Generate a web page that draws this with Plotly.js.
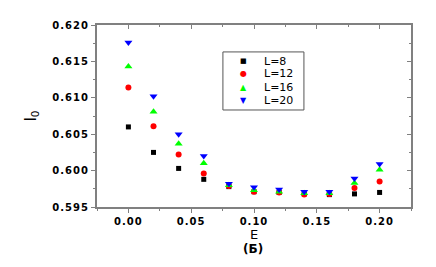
<!DOCTYPE html>
<html><head><meta charset="utf-8">
<script src="https://cdn.plot.ly/plotly-3.0.1.min.js"></script>
<style>html,body{margin:0;padding:0;background:#fff;}#chart{width:436px;height:267px;}
.xtick text, .ytick text {letter-spacing: 1px;}</style>
</head><body><div id="chart"></div>
<script>
const E = [0.00, 0.02, 0.04, 0.06, 0.08, 0.10, 0.12, 0.14, 0.16, 0.18, 0.20];
const L8  = [0.6060, 0.6025, 0.6003, 0.5988, 0.5978, 0.5971, 0.5970, 0.5968, 0.5967, 0.5968, 0.5970];
const L12 = [0.6114, 0.6061, 0.6022, 0.5996, 0.5979, 0.5971, 0.5970, 0.5967, 0.5968, 0.5976, 0.5985];
const L16 = [0.6143, 0.6081, 0.6037, 0.6010, 0.5980, 0.5973, 0.5971, 0.5969, 0.5969, 0.5983, 0.6001];
const L20 = [0.6176, 0.6102, 0.6050, 0.6020, 0.5982, 0.5977, 0.5974, 0.5971, 0.5971, 0.5989, 0.6009];
const names = ['L=8', 'L=12', 'L=16', 'L=20'];
const xTicks = [0.00, 0.05, 0.10, 0.15, 0.20];
const xTickText = ['0.00', '0.05', '0.10', '0.15', '0.20'];
const yTicks = [0.595, 0.600, 0.605, 0.610, 0.615, 0.620];
const yTickText = ['0.595', '0.600', '0.605', '0.610', '0.615', '0.620'];

const series = [L8, L12, L16, L20];
const colors = ['#000000', '#ff0000', '#00ff00', '#0000ff'];
const symbols = ['square', 'circle', 'triangle-up', 'triangle-down'];
const glyphs = ['■', '●', '▲', '▼'];
const glyphSizes = [7, 8, 8, 8];
const sizes = [5, 6, 7, 7];
const traces = series.map((s, i) => ({
  x: E, y: s, name: names[i], type: 'scatter', mode: 'markers', showlegend: false,
  marker: {color: colors[i], symbol: symbols[i], size: sizes[i], line: {width: 0}}
}));

// manual legend (compact, like the reference)
const legY = [0.802, 0.731, 0.658, 0.586];
const annotations = [];
names.forEach((n, i) => {
  annotations.push({xref: 'paper', yref: 'paper', x: 0.465, y: legY[i], xanchor: 'center', yanchor: 'middle',
    text: glyphs[i], showarrow: false, font: {family: 'DejaVu Sans', size: glyphSizes[i], color: colors[i]}});
  annotations.push({xref: 'paper', yref: 'paper', x: 0.527, y: legY[i], xanchor: 'left', yanchor: 'middle',
    text: n, showarrow: false, font: {family: 'DejaVu Sans', size: 11, color: '#000'}});
});
annotations.push({xref: 'paper', yref: 'paper', x: 0.497, y: -0.18, xanchor: 'center', yanchor: 'top',
  text: '<b>(Б)</b>', showarrow: false, font: {family: 'DejaVu Sans', size: 12, color: '#000'}});

const axColor = '#808080';
const tickFont = {family: 'DejaVu Sans', size: 10, color: '#000', weight: 'bold'};
const layout = {
  width: 436, height: 267,
  margin: {l: 97, r: 25, t: 25, b: 60},
  paper_bgcolor: '#fff', plot_bgcolor: '#fff',
  showlegend: false,
  annotations: annotations,
  shapes: [{type: 'rect', xref: 'paper', yref: 'paper', x0: 0.401, x1: 0.659, y0: 0.533, y1: 0.852,
    line: {color: '#555', width: 1}, fillcolor: 'rgba(0,0,0,0)'}],
  xaxis: {range: [-0.025, 0.225], tickvals: xTicks, ticktext: xTickText,
    showgrid: false, zeroline: false, showline: true, linecolor: axColor, linewidth: 2,
    ticks: 'outside', ticklen: 4, tickcolor: axColor, tickwidth: 1,
    minor: {dtick: 0.025, ticks: 'outside', ticklen: 2, tickcolor: axColor, showgrid: false},
    tickfont: tickFont,
    title: {text: 'E', font: {family: 'DejaVu Sans', size: 13, color: '#000'}, standoff: 0}},
  yaxis: {range: [0.595, 0.620], tickvals: yTicks, ticktext: yTickText,
    showgrid: false, zeroline: false, showline: true, linecolor: axColor, linewidth: 2,
    ticks: 'outside', ticklen: 4, tickcolor: axColor, tickwidth: 1,
    minor: {dtick: 0.0025, ticks: 'outside', ticklen: 2, tickcolor: axColor, showgrid: false},
    tickfont: tickFont,
    title: {text: 'I<sub>0</sub>', font: {family: 'DejaVu Sans', size: 15, color: '#000'}, standoff: 12}},
  xaxis2: {overlaying: 'x', side: 'top', matches: 'x', range: [-0.025, 0.225], tickvals: xTicks,
    showticklabels: false, showgrid: false, zeroline: false, showline: true, linecolor: axColor, linewidth: 2,
    ticks: 'inside', ticklen: 4, tickcolor: axColor,
    minor: {dtick: 0.025, ticks: 'inside', ticklen: 2, tickcolor: axColor, showgrid: false}},
  yaxis2: {overlaying: 'y', side: 'right', matches: 'y', range: [0.595, 0.620], tickvals: yTicks,
    showticklabels: false, showgrid: false, zeroline: false, showline: true, linecolor: axColor, linewidth: 2,
    ticks: 'inside', ticklen: 4, tickcolor: axColor,
    minor: {dtick: 0.0025, ticks: 'inside', ticklen: 2, tickcolor: axColor, showgrid: false}}
};
traces.push({x: [E[0]], y: [L8[0]], xaxis: 'x2', yaxis: 'y2', mode: 'markers',
  marker: {opacity: 0}, showlegend: false, hoverinfo: 'skip', type: 'scatter'});
Plotly.newPlot('chart', traces, layout, {displayModeBar: false, staticPlot: true});
</script></body></html>
